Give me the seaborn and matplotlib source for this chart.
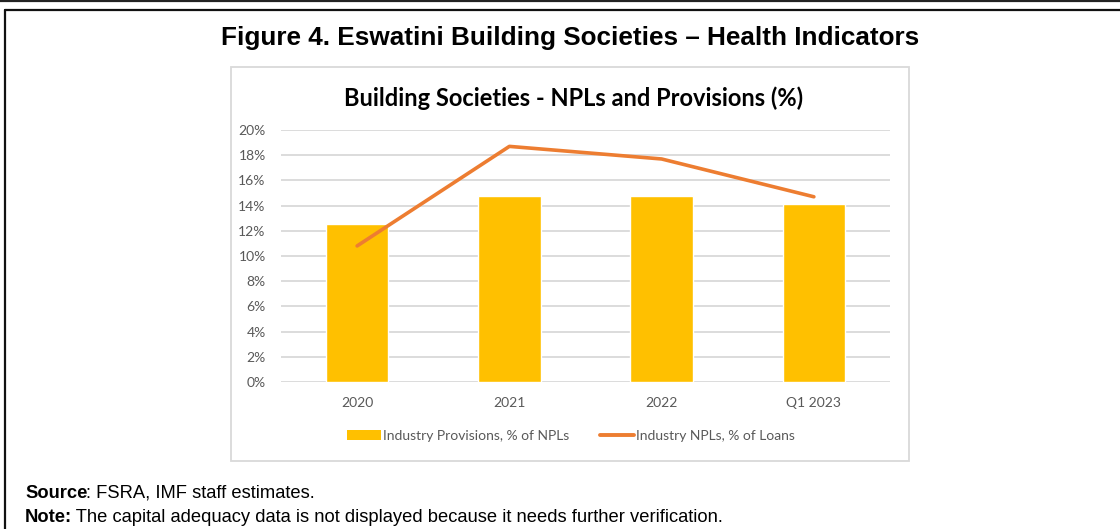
import matplotlib
matplotlib.use("Agg")
import matplotlib.pyplot as plt
import seaborn as sns
import pandas as pd
from matplotlib.patches import Patch, Rectangle
from matplotlib.lines import Line2D

# Data (percent)
periods = ["2020", "2021", "2022", "Q1 2023"]
provisions = [12.5, 14.8, 14.8, 14.1]   # Industry Provisions, % of NPLs
npls = [10.8, 18.7, 17.7, 14.7]         # Industry NPLs, % of Loans
y_ticks = [0, 2, 4, 6, 8, 10, 12, 14, 16, 18, 20]

BAR_COLOR = "#FFC000"
LINE_COLOR = "#ED7D31"
GRID_COLOR = "#D9D9D9"
TEXT_GRAY = "#595959"

sns.set_theme(style="white")
plt.rcParams["font.family"] = ["Lato", "DejaVu Sans"]

df = pd.DataFrame({"period": periods, "provisions": provisions, "npls": npls})

W, H = 1120, 529
fig = plt.figure(figsize=(W / 100, H / 100), dpi=100)
fig.patch.set_facecolor("white")

def fx(px):
    return px / W

def fy(py):
    return 1 - py / H

# Page frame: rule at the very top, then the figure box
fig.add_artist(Line2D([0, 1], [fy(1), fy(1)], color="#222222", lw=1.6))
fig.add_artist(Line2D([fx(5), 1], [fy(10), fy(10)], color="#111111", lw=1.6))
fig.add_artist(Line2D([fx(5), fx(5)], [fy(10), 0], color="#111111", lw=1.6))

# Chart area border
fig.add_artist(Rectangle((fx(231), fy(461)), fx(909) - fx(231), fy(67) - fy(461),
                         transform=fig.transFigure, fill=False,
                         edgecolor=GRID_COLOR, lw=1.3))

fig.text(fx(570), fy(38), "Figure 4. Eswatini Building Societies \u2013 Health Indicators",
         ha="center", va="center", fontsize=18.8, fontweight="bold",
         family=["Liberation Sans", "DejaVu Sans"], color="black")
fig.text(fx(574), fy(98), "Building Societies - NPLs and Provisions (%)",
         ha="center", va="center", fontsize=17, fontweight="bold", color="black")

ax = fig.add_axes([fx(281), fy(382), fx(890) - fx(281), fy(130) - fy(382)])
sns.barplot(data=df, x="period", y="provisions", color=BAR_COLOR, width=0.41,
            saturation=1, ax=ax, zorder=2)
sns.pointplot(data=df, x="period", y="npls", color=LINE_COLOR, markers="",
              linewidth=2.6, ax=ax, zorder=3)
for ln in ax.lines:
    ln.set_solid_capstyle("round")
    ln.set_clip_on(False)

ax.set_ylim(0, 20)
ax.set_xlim(-0.5, 3.5)
ax.set_yticks(y_ticks)
ax.set_yticklabels([f"{v}%" for v in y_ticks])
ax.set_xlabel("")
ax.set_ylabel("")
for s in ax.spines.values():
    s.set_visible(False)
ax.yaxis.grid(True, color=GRID_COLOR, lw=1.3, zorder=0)
ax.set_axisbelow(True)
ax.tick_params(axis="both", length=0, labelsize=10, labelcolor=TEXT_GRAY)
ax.tick_params(axis="y", pad=11)
ax.tick_params(axis="x", pad=11)
ax.set_facecolor("none")

handles = [Patch(facecolor=BAR_COLOR, edgecolor="none"),
           Line2D([0], [0], color=LINE_COLOR, lw=2.8)]
labels = ["Industry Provisions, % of NPLs", "Industry NPLs, % of Loans"]
fig.legend(handles, labels, loc="center", bbox_to_anchor=(fx(571), fy(436)),
           ncol=2, frameon=False, fontsize=10, labelcolor=TEXT_GRAY,
           handlelength=2.45, handleheight=0.65, handletextpad=0.12,
           columnspacing=2.2, borderaxespad=0)

# Footnotes with bold lead-in words, sharing a baseline
fig.canvas.draw()
renderer = fig.canvas.get_renderer()
foot_font = ["Liberation Sans", "DejaVu Sans"]
for ypx, lead, rest in [(498, "Source", ": FSRA, IMF staff estimates."),
                        (522, "Note:", " The capital adequacy data is not displayed because it needs further verification.")]:
    t = fig.text(fx(25), fy(ypx), lead, ha="left", va="baseline", fontsize=13.2,
                 fontweight="bold", family=foot_font, color="black")
    bb = t.get_window_extent(renderer)
    fig.text((bb.x1 - 1) / W, fy(ypx), rest, ha="left", va="baseline", fontsize=13.2,
             family=foot_font, color="black")

fig.savefig("out.png", dpi=100, facecolor="white")
